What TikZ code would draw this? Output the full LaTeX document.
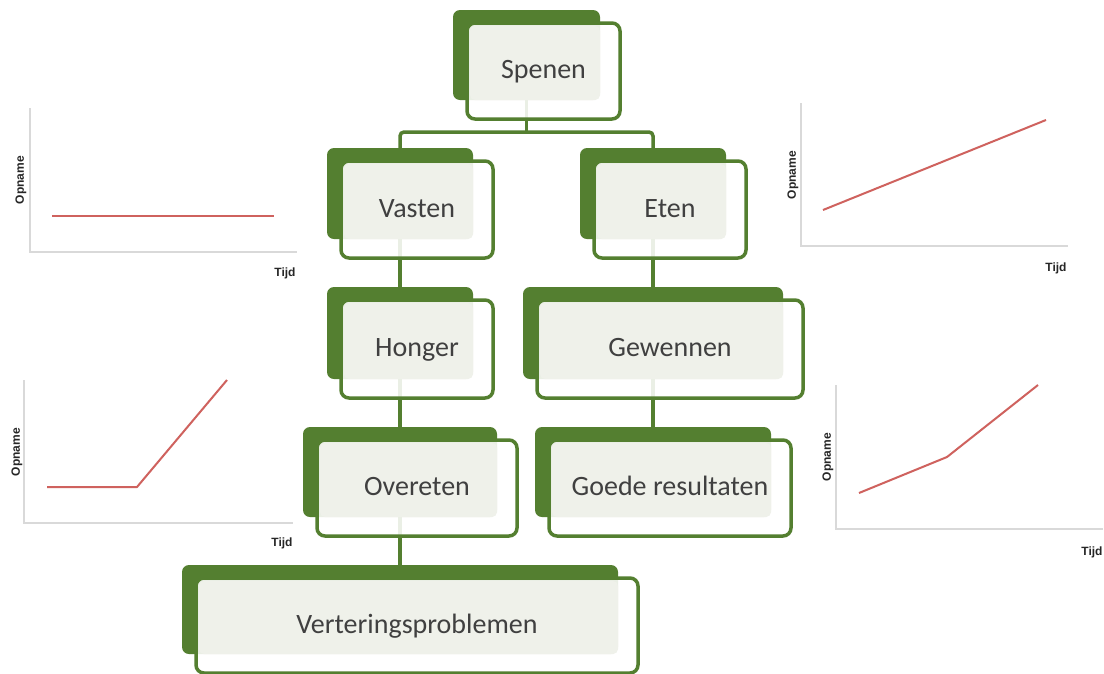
\documentclass[tikz,border=0pt]{standalone}
\usepackage{fontspec}
\setmainfont{Carlito}
\newfontfamily\chartfont{Liberation Sans}
\usetikzlibrary{backgrounds}

\definecolor{leaf}{RGB}{84,127,48}
\definecolor{paneltint}{RGB}{239,241,234}
\definecolor{labelink}{RGB}{64,64,64}
\definecolor{axisgrey}{RGB}{217,217,217}
\definecolor{trendred}{RGB}{207,98,94}

\tikzset{
  backplate/.style={fill=leaf, rounded corners=7pt, inner sep=0pt, outer sep=0pt, anchor=north west},
  frame/.style={draw=leaf, line width=3.5pt, fill=white, fill opacity=0.88, rounded corners=8pt,
                inner sep=0pt, outer sep=0pt, anchor=north west},
  panel/.style={fill=paneltint, rounded corners=5pt, inner sep=0pt, outer sep=0pt, anchor=north west},
  caption/.style={text=labelink, font=\fontsize{28}{32}\selectfont, inner sep=0pt, anchor=base},
  conn/.style={draw=leaf, line width=3.5pt},
  axis/.style={draw=axisgrey, line width=1.5pt},
  trend/.style={draw=trendred, line width=2pt, line join=round},
  axislabel/.style={font=\chartfont\bfseries\fontsize{12}{14}\selectfont, text=black!85, inner sep=0pt},
}

% one hierarchy box: name, left, top, width, height, text
\newcommand\tierbox[6]{%
  \node[backplate, minimum width=#4, minimum height=#5] (#1-back) at (#2,#3) {};
  \node[frame, minimum width=#4+6, minimum height=#5+6] (#1-frame) at ({#2+14},{#3+13}) {};
  \node[panel, minimum width=#4-17, minimum height=#5-16] (#1-panel) at ({#2+17},{#3+16}) {};
  \node[caption] (#1) at ({#2+17+#4/2},{#3+16+#5/2+7.5}) {#6};
}

\begin{document}
\begin{tikzpicture}[x=1pt, y=-1pt]
  \useasboundingbox (0,0) rectangle (1104,673);

  % hierarchy boxes
  \tierbox{spenen}{453}{10}{147}{90}{Spenen}
  \tierbox{vasten}{327}{148}{146}{91}{Vasten}
  \tierbox{eten}{580}{148}{146}{91}{Eten}
  \tierbox{honger}{327}{287}{146}{92}{Honger}
  \tierbox{gewennen}{523}{287}{260}{92}{Gewennen}
  \tierbox{overeten}{303}{427}{194}{90}{Overeten}
  \tierbox{goede}{535}{427}{236}{90}{Goede resultaten}
  \tierbox{vertering}{182}{565}{436}{89}{Verteringsproblemen}

  % white page and connectors behind the boxes
  \begin{pgfonlayer}{background}
    \fill[white] (0,0) rectangle (1104,673);
    \coordinate (fork) at (526.5,132);
    \draw[conn] (spenen-back.center) -- (fork);
    \draw[conn, rounded corners=4pt] (vasten-back.center) |- (fork) -| (eten-back.center);
    \draw[conn] (vasten-back.center) -- (honger-back.center);
    \draw[conn] (honger-back.center) -- (overeten-back.center);
    \draw[conn] (overeten-back.center) -- (vertering-back.center);
    \draw[conn] (eten-back.center) -- (gewennen-back.center);
    \draw[conn] (gewennen-back.center) -- (goede-back.center);
  \end{pgfonlayer}

  % chart: constant intake
  \draw[axis] (30,108) -- (30,252) -- (297,252);
  \draw[trend] (52,216) -- (274,216);
  \node[axislabel, rotate=90] (c1-y) at (21,180) {Opname};
  \node[axislabel] (c1-x) at (285,273) {Tijd};

  % chart: steady rise
  \draw[axis] (801,103) -- (801,246) -- (1068,246);
  \draw[trend] (823,210) -- (1046,120);
  \node[axislabel, rotate=90] (c2-y) at (793,175) {Opname};
  \node[axislabel] (c2-x) at (1056,268) {Tijd};

  % chart: flat then steep
  \draw[axis] (24,380) -- (24,523) -- (293,523);
  \draw[trend] (47,487) -- (137,487) -- (227,380);
  \node[axislabel, rotate=90] (c3-y) at (17,452) {Opname};
  \node[axislabel] (c3-x) at (282,543) {Tijd};

  % chart: gentle then steeper
  \draw[axis] (836,385) -- (836,529) -- (1103,529);
  \draw[trend] (859,493) -- (947,457) -- (1038,385);
  \node[axislabel, rotate=90] (c4-y) at (828,457) {Opname};
  \node[axislabel] (c4-x) at (1092,552) {Tijd};
\end{tikzpicture}
\end{document}
